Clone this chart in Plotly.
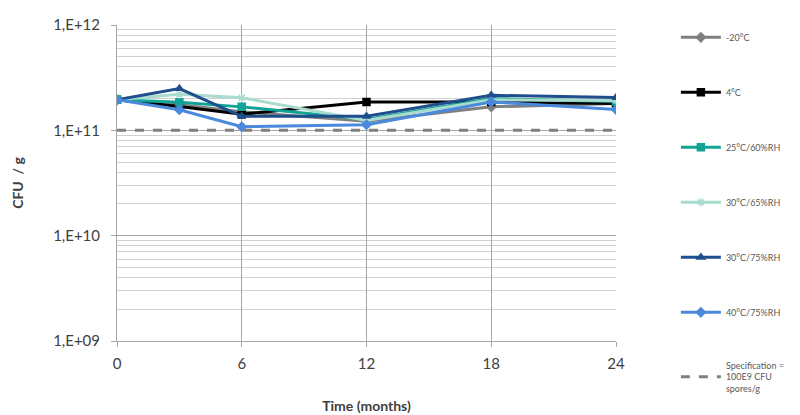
import plotly.graph_objects as go

months = [0, 3, 6, 12, 18, 24]
series_names = ["-20°C", "4°C", "25°C/60%RH", "30°C/65%RH", "30°C/75%RH", "40°C/75%RH"]
s_m20 = [1.95e11, 1.75e11, 1.50e11, 1.22e11, 1.67e11, 1.80e11]
s_4 = [1.95e11, 1.68e11, 1.42e11, 1.86e11, 1.86e11, 1.80e11]
s_25_60 = [1.95e11, 1.85e11, 1.67e11, 1.27e11, 2.00e11, 1.88e11]
s_30_65 = [1.95e11, 2.20e11, 2.04e11, 1.24e11, 1.95e11, 1.92e11]
s_30_75 = [1.95e11, 2.49e11, 1.36e11, 1.36e11, 2.15e11, 2.05e11]
s_40_75 = [1.95e11, 1.57e11, 1.08e11, 1.13e11, 1.86e11, 1.58e11]
spec_x = [0, 24]
spec_y = [1e11, 1e11]
spec_name = "Specification =<br>100E9 CFU<br>spores/g"

y_tickvals = [1e9, 1e10, 1e11, 1e12]
y_ticktext = ["1,E+09", "1,E+10", "1,E+11", "1,E+12"]
x_tickvals = [0, 6, 12, 18, 24]

colors = ["#7f7f7f", "#000000", "#13a396", "#a9dccf", "#1f4e8c", "#4a89dc"]
symbols = ["diamond", "square", "square", "asterisk-open", "triangle-up", "diamond"]
data = [s_m20, s_4, s_25_60, s_30_65, s_30_75, s_40_75]

fig = go.Figure()
for name, vals, c, sym in zip(series_names, data, colors, symbols):
    fig.add_trace(go.Scatter(
        x=months, y=vals, name=name, mode="lines+markers",
        line=dict(color=c, width=3),
        marker=dict(symbol=sym, size=7, color=c, line=dict(color=c, width=1.5)),
        legendgroup=name,
    ))
fig.add_trace(go.Scatter(
    x=spec_x, y=spec_y, name=spec_name, mode="lines",
    line=dict(color="#808080", width=3, dash="dash"), legendgroup="spec",
))

minor_vals = [m * 10 ** e for e in range(9, 12) for m in range(2, 10)]

fig.update_layout(
    width=800, height=415,
    margin=dict(l=117, r=184, t=25, b=74, autoexpand=False),
    paper_bgcolor="white", plot_bgcolor="white",
    font=dict(family="Lato, Open Sans, sans-serif", size=15, color="#404040"),
    showlegend=True,
    legend=dict(
        x=1.12, y=0.945, xanchor="left", yanchor="top", yref="container",
        maxheight=405,
        font=dict(size=9, color="#595959"),
        tracegroupgap=36, itemwidth=40,
        bgcolor="rgba(0,0,0,0)",
    ),
    xaxis=dict(
        range=[0, 24], tickvals=x_tickvals, showgrid=True, gridcolor="#a6a6a6", gridwidth=1,
        showline=True, linecolor="#a6a6a6", ticks="outside", tickcolor="#a6a6a6", ticklen=5,
        zeroline=False, automargin=False, ticklabelstandoff=4,
        title=dict(text="<b>Time (months)</b>", font=dict(size=14, color="#404040"), standoff=30),
    ),
    yaxis=dict(
        type="log", range=[9, 12], tickvals=y_tickvals, ticktext=y_ticktext,
        showgrid=True, gridcolor="#a6a6a6", gridwidth=1, automargin=False,
        showline=True, linecolor="#a6a6a6", ticks="outside", tickcolor="#a6a6a6", ticklen=5,
        ticklabelstandoff=8,
        minor=dict(tickvals=minor_vals, showgrid=True, gridcolor="#d0d0d0", gridwidth=1, ticks=""),
        title=dict(text="<b>CFU  / g</b>", font=dict(size=14, color="#404040"), standoff=26),
    ),
)

fig.write_html("out.html")
